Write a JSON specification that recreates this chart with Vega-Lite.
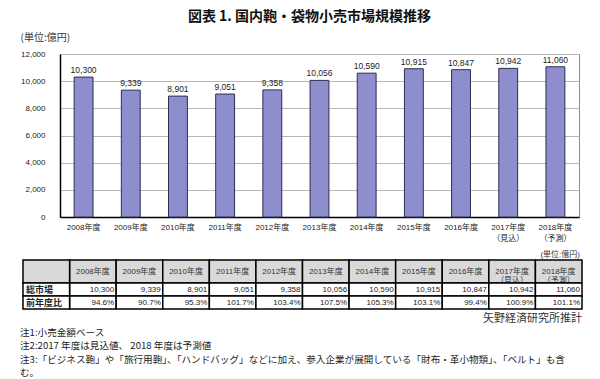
{
  "$schema": "https://vega.github.io/schema/vega-lite/v6.json",
  "width": 519,
  "height": 163,
  "autosize": {"type": "none"},
  "padding": {"left": 60, "top": 54, "right": 21, "bottom": 162},
  "background": "white",
  "title": {
    "text": "図表 1. 国内鞄・袋物小売市場規模推移",
    "font": "Noto Sans CJK JP",
    "fontSize": 14,
    "fontWeight": "bold",
    "color": "#111",
    "anchor": "middle",
    "frame": "group",
    "dx": -10,
    "offset": 8
  },
  "config": {
    "view": {"stroke": "#8a8a8a", "strokeWidth": 1},
    "font": "Liberation Sans, Noto Sans CJK JP"
  },
  "datasets": {
    "years": [
      {"fy": "2008年度", "head": "2008年度", "value": 10300, "ratio": 0.946},
      {"fy": "2009年度", "head": "2009年度", "value": 9339, "ratio": 0.907},
      {"fy": "2010年度", "head": "2010年度", "value": 8901, "ratio": 0.953},
      {"fy": "2011年度", "head": "2011年度", "value": 9051, "ratio": 1.017},
      {"fy": "2012年度", "head": "2012年度", "value": 9358, "ratio": 1.034},
      {"fy": "2013年度", "head": "2013年度", "value": 10056, "ratio": 1.075},
      {"fy": "2014年度", "head": "2014年度", "value": 10590, "ratio": 1.053},
      {"fy": "2015年度", "head": "2015年度", "value": 10915, "ratio": 1.031},
      {"fy": "2016年度", "head": "2016年度", "value": 10847, "ratio": 0.994},
      {"fy": "2017年度", "head": "2017年度\n（見込）", "value": 10942, "ratio": 1.009},
      {"fy": "2018年度", "head": "2018年度\n（予測）", "value": 11060, "ratio": 1.011}
    ],
    "notes": [
      {"n": 1, "text": "注1:小売金額ベース"},
      {"n": 2, "text": "注2:2017 年度は見込値、 2018 年度は予測値"},
      {"n": 3, "text": "注3:「ビジネス鞄」や「旅行用鞄」、「ハンドバッグ」などに加え、参入企業が展開している「財布・革小物類」、「ベルト」も含"},
      {"n": 4, "text": "む。"}
    ]
  },
  "layer": [
    {
      "data": {"name": "years"},
      "encoding": {
        "x": {
          "field": "head", "type": "nominal", "sort": null,
          "scale": {"type": "band", "paddingInner": 0.6, "paddingOuter": 0.3},
          "axis": {
            "title": null, "labelAngle": 0, "labelExpr": "split(datum.label, '\\n')",
            "labelFontSize": 8, "labelPadding": 6, "labelLineHeight": 11, "labelColor": "#222",
            "ticks": false, "domainColor": "#000", "domainWidth": 1.5
          }
        },
        "y": {
          "field": "value", "type": "quantitative",
          "scale": {"domain": [0, 12000], "nice": false},
          "axis": {
            "title": "(単位:億円)", "titleAngle": 0, "titleAlign": "left", "titleBaseline": "middle",
            "titleX": -40, "titleY": -17, "titleFontSize": 10, "titleFontWeight": "normal",
            "titleFont": "Noto Sans CJK JP", "titleColor": "#333",
            "values": [0, 2000, 4000, 6000, 8000, 10000, 12000], "format": ",d",
            "labelFontSize": 8, "labelPadding": 15, "labelColor": "#222", "ticks": false,
            "labelOverlap": false,
            "domainColor": "#000", "domainWidth": 1.5, "gridColor": "#b8b8b8", "gridWidth": 1
          }
        }
      },
      "layer": [
        {
          "mark": {"type": "bar", "fill": "#8e8ecf", "stroke": "#2e2e50", "strokeWidth": 1}
        },
        {
          "mark": {"type": "text", "baseline": "bottom", "dy": -2, "fontSize": 8.5, "color": "#222"},
          "encoding": {
            "text": {"field": "value", "type": "quantitative", "format": ","}
          }
        }
      ]
    },
    {
      "data": {"name": "years"},
      "encoding": {
        "x": {
          "field": "fy", "type": "nominal",
          "scale": {"type": "band", "domain": ["項目", "2008年度", "2009年度", "2010年度", "2011年度", "2012年度", "2013年度", "2014年度", "2015年度", "2016年度", "2017年度", "2018年度"], "range": [-37, 522], "paddingInner": 0, "paddingOuter": 0},
          "axis": null
        }
      },
      "layer": [
        {
          "mark": {"type": "rect", "fill": "#d9d9d9", "stroke": "#000", "strokeWidth": 1.5},
          "encoding": {
            "y": {"datum": "h", "type": "nominal", "scale": {"type": "band", "domain": ["h"], "range": [206, 229], "paddingInner": 0, "paddingOuter": 0}, "axis": null}
          }
        },
        {
          "data": {"values": [{"fy": "項目"}]},
          "mark": {"type": "rect", "fill": "#d9d9d9", "stroke": "#000", "strokeWidth": 1.5},
          "encoding": {"y": {"datum": "h", "type": "nominal"}}
        },
        {
          "mark": {"type": "text", "lineBreak": "\n", "fontSize": 8, "lineHeight": 9.5, "color": "#333", "baseline": "middle"},
          "encoding": {"y": {"datum": "h", "type": "nominal"}, "text": {"field": "head"}}
        },
        {
          "data": {"values": [{"fy": "2018年度", "t": "(単位:億円)"}]},
          "mark": {"type": "text", "align": "right", "baseline": "bottom", "dx": -2, "dy": -1, "fontSize": 8, "color": "#333"},
          "encoding": {
            "x": {"field": "fy", "type": "nominal", "bandPosition": 1},
            "y": {"datum": "h", "type": "nominal", "bandPosition": 0},
            "text": {"field": "t"}
          }
        }
      ]
    },
    {
      "data": {"name": "years"},
      "encoding": {
        "x": {
          "field": "fy", "type": "nominal",
          "scale": {"type": "band", "domain": ["項目", "2008年度", "2009年度", "2010年度", "2011年度", "2012年度", "2013年度", "2014年度", "2015年度", "2016年度", "2017年度", "2018年度"], "range": [-37, 522], "paddingInner": 0, "paddingOuter": 0},
          "axis": null
        }
      },
      "layer": [
        {
          "transform": [{"fold": ["value", "ratio"], "as": ["key", "v"]}],
          "mark": {"type": "rect", "fill": "white", "stroke": "#000", "strokeWidth": 1.5},
          "encoding": {
            "y": {"field": "key", "type": "nominal", "scale": {"type": "band", "domain": ["value", "ratio"], "range": [229, 255], "paddingInner": 0, "paddingOuter": 0}, "axis": null}
          }
        },
        {
          "data": {"values": [{"fy": "項目", "key": "value", "name": "総市場"}, {"fy": "項目", "key": "ratio", "name": "前年度比"}]},
          "layer": [
            {
              "mark": {"type": "rect", "fill": "white", "stroke": "#000", "strokeWidth": 1.5},
              "encoding": {"y": {"field": "key", "type": "nominal"}}
            },
            {
              "mark": {"type": "text", "align": "left", "baseline": "middle", "dx": 3, "fontSize": 9, "fontWeight": "bold", "font": "Noto Sans CJK JP", "color": "#222"},
              "encoding": {
                "x": {"field": "fy", "type": "nominal", "bandPosition": 0},
                "y": {"field": "key", "type": "nominal"},
                "text": {"field": "name"}
              }
            }
          ]
        },
        {
          "mark": {"type": "text", "align": "right", "baseline": "middle", "dx": -2, "fontSize": 8, "color": "#222"},
          "encoding": {
            "x": {"field": "fy", "type": "nominal", "bandPosition": 1},
            "y": {"datum": "value", "type": "nominal"},
            "text": {"field": "value", "type": "quantitative", "format": ","}
          }
        },
        {
          "mark": {"type": "text", "align": "right", "baseline": "middle", "dx": -2, "fontSize": 8, "color": "#222"},
          "encoding": {
            "x": {"field": "fy", "type": "nominal", "bandPosition": 1},
            "y": {"datum": "ratio", "type": "nominal"},
            "text": {"field": "ratio", "type": "quantitative", "format": ".1%"}
          }
        },
        {
          "data": {"values": [{"fy": "2018年度", "key": "ratio", "t": "矢野経済研究所推計"}]},
          "mark": {"type": "text", "align": "right", "baseline": "middle", "dy": 10, "fontSize": 11, "font": "Noto Sans CJK JP", "color": "#333"},
          "encoding": {
            "x": {"field": "fy", "type": "nominal", "bandPosition": 1},
            "y": {"field": "key", "type": "nominal", "bandPosition": 1},
            "text": {"field": "t"}
          }
        }
      ]
    },
    {
      "data": {"name": "notes"},
      "mark": {"type": "text", "align": "left", "baseline": "middle", "dx": -3, "fontSize": 9.6, "font": "Noto Sans CJK JP", "color": "#222"},
      "encoding": {
        "x": {
          "datum": "項目", "type": "nominal", "bandPosition": 0,
          "scale": {"type": "band", "domain": ["項目", "2008年度", "2009年度", "2010年度", "2011年度", "2012年度", "2013年度", "2014年度", "2015年度", "2016年度", "2017年度", "2018年度"], "range": [-37, 522], "paddingInner": 0, "paddingOuter": 0},
          "axis": null
        },
        "y": {"field": "n", "type": "ordinal", "scale": {"type": "point", "domain": [1, 2, 3, 4], "range": [279, 319], "padding": 0}, "axis": null},
        "text": {"field": "text"}
      }
    }
  ],
  "resolve": {"scale": {"x": "independent", "y": "independent"}}
}
